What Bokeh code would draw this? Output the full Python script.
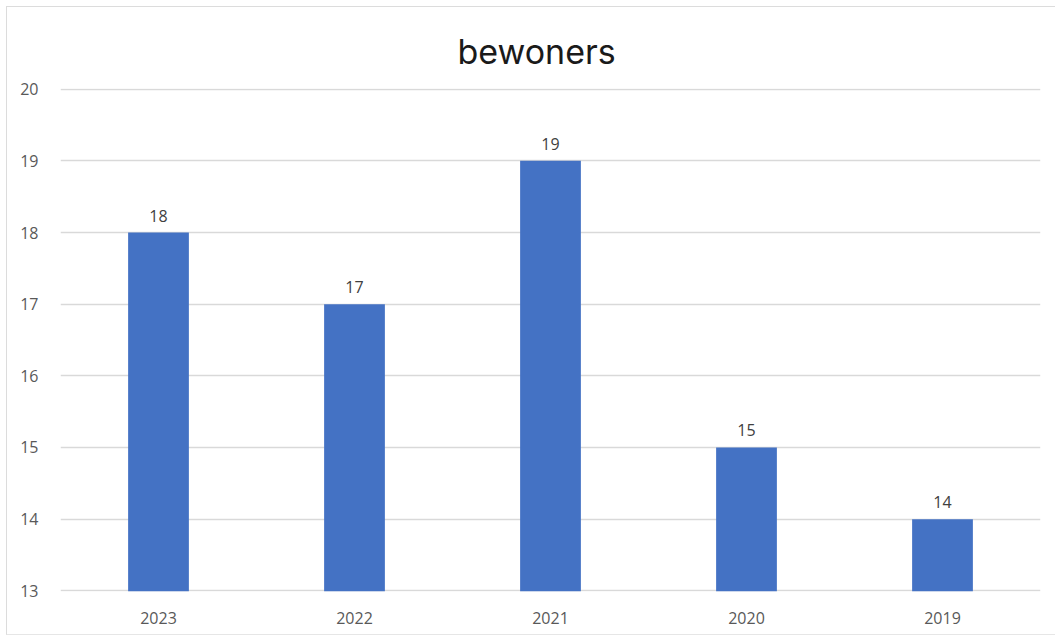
from bokeh.plotting import figure
from bokeh.models import Range1d, ColumnDataSource, FixedTicker
from bokeh.core.properties import value
from bokeh.embed import file_html
from bokeh.resources import INLINE

years = ["2023", "2022", "2021", "2020", "2019"]
bewoners = [18, 17, 19, 15, 14]
y_ticks = [13, 14, 15, 16, 17, 18, 19, 20]
title_text = "bewoners"

src = ColumnDataSource(dict(x=years, top=bewoners, lbl=[str(v) for v in bewoners]))

p = figure(width=1049, height=629, x_range=years, y_range=Range1d(12.99, 20.01),
           output_backend="svg", toolbar_location=None,
           min_border_left=53, min_border_right=16, min_border_top=81, min_border_bottom=45)
p.styles = {"margin-left": "6px", "margin-top": "6px",
            "border-left": "1px solid #dcdcdc", "border-top": "1px solid #dcdcdc",
            "border-bottom": "1px solid #e6e6e6"}

p.title.text = title_text
p.title.align = "left"
p.title.offset = 397
p.title.text_font = "Inter"
p.title.text_font_style = "normal"
p.title.text_font_size = "34px"
p.title.text_color = "#1a1a1a"
p.title.standoff = 34

p.vbar(x="x", top="top", bottom=12.99, width=0.31, source=src,
       fill_color="#4472C4", line_color=None)
p.text(x="x", y="top", text="lbl", source=src, text_align="center",
       text_baseline="bottom", y_offset=-11, text_font=value("Open Sans"),
       text_font_size="16px", text_color="#404040")

p.yaxis.ticker = FixedTicker(ticks=y_ticks)
for ax in (p.xaxis, p.yaxis):
    ax.axis_line_color = None
    ax.major_tick_line_color = None
    ax.minor_tick_line_color = None
    ax.major_label_text_font = "Open Sans"
    ax.major_label_text_font_size = "16px"
    ax.major_label_text_color = "#595959"
p.yaxis.major_label_standoff = 16
p.xaxis.major_label_standoff = 14

p.xgrid.grid_line_color = None
p.ygrid.grid_line_color = "#d9d9d9"
p.ygrid.grid_line_width = 1.5
p.outline_line_color = None
p.x_range.range_padding = 0

open("out.html", "w").write(file_html(p, INLINE))
